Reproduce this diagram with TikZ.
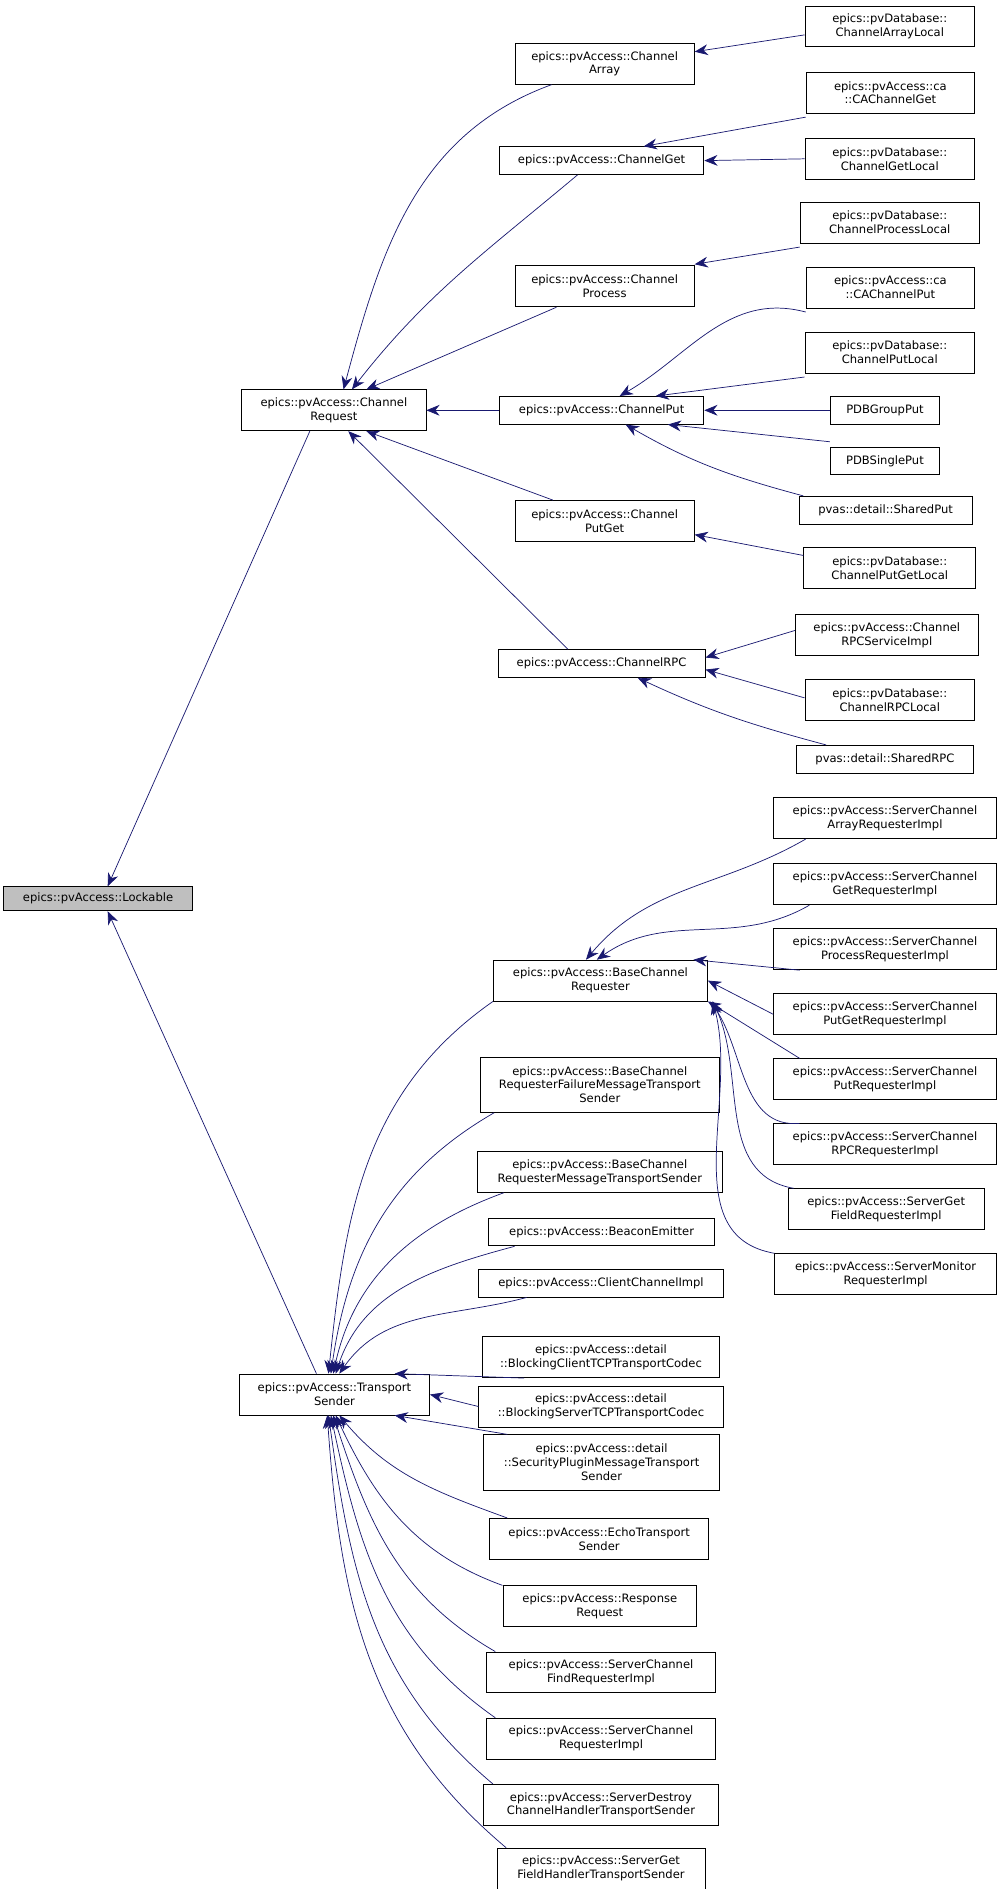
\documentclass[tikz,border=0pt]{standalone}
\usepackage{fontspec}
\setmainfont{DejaVu Sans}
\usetikzlibrary{arrows.meta}
\definecolor{edge}{HTML}{191970}
\begin{document}
\begin{tikzpicture}[x=1pt,y=-1pt,
 b/.style={draw,line width=0.7pt,fill=white,inner sep=1pt,align=center,font=\fontsize{9.6}{11.5}\selectfont,minimum height=#1},
 b/.default=34pt,
 e/.style={edge,line width=0.6pt,-{Stealth[length=11pt,width=9pt]}}]
\path[use as bounding box] (0,0) rectangle (835,1570);
% left
\node[b=20pt,fill=gray!50,minimum width=157pt] (lock) at (81.5,747) {epics::pvAccess::Lockable};
\node[b,minimum width=153pt] (cr) at (277.5,341) {epics::pvAccess::Channel\\Request};
\node[b,minimum width=158pt] (ts) at (278,1159) {epics::pvAccess::Transport\\Sender};
% middle
\node[b,minimum width=149pt] (ca) at (502.5,53) {epics::pvAccess::Channel\\Array};
\node[b=23pt,minimum width=170pt] (cg) at (500,133.5) {epics::pvAccess::ChannelGet};
\node[b,minimum width=149pt] (cpr) at (502.5,238) {epics::pvAccess::Channel\\Process};
\node[b=23pt,minimum width=170pt] (cp) at (500,341) {epics::pvAccess::ChannelPut};
\node[b,minimum width=149pt] (cpg) at (502.5,433) {epics::pvAccess::Channel\\PutGet};
\node[b=23pt,minimum width=172pt] (rpc) at (500,551.5) {epics::pvAccess::ChannelRPC};
\node[b,minimum width=178pt] (bcr) at (499,815) {epics::pvAccess::BaseChannel\\Requester};
\node[b=46pt,minimum width=199pt] (bf) at (498.5,901.5) {epics::pvAccess::BaseChannel\\RequesterFailureMessageTransport\\Sender};
\node[b,minimum width=203pt] (bm) at (498.5,974) {epics::pvAccess::BaseChannel\\RequesterMessageTransportSender};
\node[b=23pt,minimum width=188pt] (be) at (500,1024) {epics::pvAccess::BeaconEmitter};
\node[b=23pt,minimum width=203pt] (cci) at (499.5,1066.5) {epics::pvAccess::ClientChannelImpl};
\node[b,minimum width=197pt] (bc) at (499.5,1128) {epics::pvAccess::detail\\::BlockingClientTCPTransportCodec};
\node[b,minimum width=203pt] (bs) at (499.5,1169) {epics::pvAccess::detail\\::BlockingServerTCPTransportCodec};
\node[b=46pt,minimum width=196pt] (sp) at (500,1215.5) {epics::pvAccess::detail\\::SecurityPluginMessageTransport\\Sender};
\node[b,minimum width=182pt] (et) at (498,1279) {epics::pvAccess::EchoTransport\\Sender};
\node[b,minimum width=161pt] (rr) at (498.5,1335) {epics::pvAccess::Response\\Request};
\node[b,minimum width=191pt] (scf) at (499.5,1390) {epics::pvAccess::ServerChannel\\FindRequesterImpl};
\node[b,minimum width=191pt] (scr) at (499.5,1445) {epics::pvAccess::ServerChannel\\RequesterImpl};
\node[b,minimum width=195pt] (sd) at (499.5,1500) {epics::pvAccess::ServerDestroy\\ChannelHandlerTransportSender};
\node[b,minimum width=173pt] (sgh) at (499.5,1553) {epics::pvAccess::ServerGet\\FieldHandlerTransportSender};
% right
\node[b,minimum width=141pt] (cal) at (739.5,22) {epics::pvDatabase::\\ChannelArrayLocal};
\node[b,minimum width=140pt] (cacg) at (740,77) {epics::pvAccess::ca\\::CAChannelGet};
\node[b,minimum width=141pt] (cgl) at (739.5,132) {epics::pvDatabase::\\ChannelGetLocal};
\node[b,minimum width=149pt] (cprl) at (739.5,185) {epics::pvDatabase::\\ChannelProcessLocal};
\node[b,minimum width=140pt] (cacp) at (740,239) {epics::pvAccess::ca\\::CAChannelPut};
\node[b,minimum width=141pt] (cpl) at (739.5,293) {epics::pvDatabase::\\ChannelPutLocal};
\node[b=23pt,minimum width=91pt] (pgp) at (735.5,341) {PDBGroupPut};
\node[b=23pt,minimum width=91pt] (psp) at (735.5,383) {PDBSinglePut};
\node[b=23pt,minimum width=144pt] (shp) at (736,424) {pvas::detail::SharedPut};
\node[b,minimum width=143pt] (cpgl) at (739.5,472) {epics::pvDatabase::\\ChannelPutGetLocal};
\node[b,minimum width=152pt] (rsi) at (737,528) {epics::pvAccess::Channel\\RPCServiceImpl};
\node[b,minimum width=141pt] (rl) at (739.5,582) {epics::pvDatabase::\\ChannelRPCLocal};
\node[b=23pt,minimum width=147pt] (shr) at (735.5,631) {pvas::detail::SharedRPC};
\node[b,minimum width=185pt] (sa) at (735.5,680) {epics::pvAccess::ServerChannel\\ArrayRequesterImpl};
\node[b,minimum width=185pt] (sg) at (735.5,735) {epics::pvAccess::ServerChannel\\GetRequesterImpl};
\node[b,minimum width=185pt] (spr) at (735.5,789) {epics::pvAccess::ServerChannel\\ProcessRequesterImpl};
\node[b,minimum width=185pt] (spg) at (735.5,843) {epics::pvAccess::ServerChannel\\PutGetRequesterImpl};
\node[b,minimum width=185pt] (sput) at (735.5,897) {epics::pvAccess::ServerChannel\\PutRequesterImpl};
\node[b,minimum width=185pt] (srpc) at (735.5,951) {epics::pvAccess::ServerChannel\\RPCRequesterImpl};
\node[b,minimum width=163pt] (sgf) at (736.5,1005) {epics::pvAccess::ServerGet\\FieldRequesterImpl};
\node[b,minimum width=184pt] (smon) at (736,1059) {epics::pvAccess::ServerMonitor\\RequesterImpl};
% edges to Lockable
\draw[e] ([xshift=-20pt]cr.south) -- ([xshift=8pt]lock.north);
\draw[e] ([xshift=-15pt]ts.north) -- ([xshift=8pt]lock.south);
% to ChannelRequest
\draw[e] ([xshift=-44pt]ca.south) to[out=200,in=75] ([xshift=8pt]cr.north);
\draw[e] ([xshift=-20pt]cg.south) to[out=220,in=52] ([xshift=15pt]cr.north);
\draw[e] ([xshift=-40pt]cpr.south) -- ([xshift=27pt]cr.north);
\draw[e] (cp.west) -- (cr.east);
\draw[e] ([xshift=-43pt]cpg.north) -- ([xshift=27pt]cr.south);
\draw[e] ([xshift=-28pt]rpc.north) -- ([xshift=12pt]cr.south);
% to middle
\draw[e] ([yshift=-7pt]cal.west) -- ([yshift=10pt]ca.east);
\draw[e] ([yshift=-3pt]cacg.south west) -- ([xshift=35pt]cg.north);
\draw[e] (cgl.west) -- (cg.east);
\draw[e] ([yshift=-3pt]cprl.south west) -- ([yshift=1pt]cpr.north east);
\draw[e] ([yshift=-3pt]cacp.south west) to[out=165,in=30] ([xshift=15pt]cp.north);
\draw[e] ([yshift=-3pt]cpl.south west) -- ([xshift=45pt]cp.north);
\draw[e] (pgp.west) -- (cp.east);
\draw[e] ([yshift=4pt]psp.north west) -- ([xshift=55pt]cp.south);
\draw[e] ([xshift=4pt]shp.north west) to[out=165,in=-30] ([xshift=20pt]cp.south);
\draw[e] ([yshift=-7pt]cpgl.north west) -- ([yshift=6pt]cpg.south east);
\draw[e] ([yshift=4pt]rsi.west) -- ([yshift=5pt]rpc.east);
\draw[e] ([yshift=2pt]rl.west) -- ([yshift=-5pt]rpc.east);
\draw[e] ([xshift=25pt]shr.north west) to[out=165,in=-25] ([xshift=30pt]rpc.south);
% to BaseChannelRequester
\draw[e] ([xshift=27pt]sa.south west) to[out=210,in=50] ([xshift=-12pt]bcr.north);
\draw[e] ([xshift=30pt]sg.south west) to[out=210,in=35] ([xshift=-3pt]bcr.north);
\draw[e] ([xshift=22pt]spr.south west) -- ([xshift=-12pt]bcr.north east);
\draw[e] (spg.west) -- (bcr.east);
\draw[e] ([xshift=22pt]sput.north west) -- (bcr.south east);
\draw[e] ([xshift=22pt]srpc.north west) to[out=185,in=-55] ([xshift=2pt]bcr.south east);
\draw[e] ([xshift=5pt]sgf.north west) to[out=170,in=-65] ([xshift=4pt]bcr.south east);
\draw[e] (smon.north west) to[out=170,in=-75] ([xshift=4pt]bcr.south east);
% to TransportSender (above)
\draw[e] (bcr.south west) to[out=215,in=84] ([xshift=-5pt]ts.north);
\draw[e] ([xshift=12pt]bf.south west) to[out=210,in=82] ([xshift=-3pt]ts.north);
\draw[e] ([xshift=22pt]bm.south west) to[out=200,in=78] ([xshift=-1pt]ts.north);
\draw[e] ([xshift=22pt]be.south west) to[out=195,in=72] ([xshift=1pt]ts.north);
\draw[e] ([xshift=40pt]cci.south west) to[out=195,in=55] ([xshift=4pt]ts.north);
\draw[e] ([xshift=35pt]bc.south west) -- ([xshift=50pt]ts.north);
\draw[e] (bs.west) -- (ts.east);
% below
\draw[e] ([xshift=20pt]sp.north west) -- ([xshift=50pt]ts.south);
\draw[e] ([xshift=15pt]et.north west) to[out=160,in=-50] ([xshift=4pt]ts.south);
\draw[e] (rr.north west) to[out=160,in=-65] ([xshift=1pt]ts.south);
\draw[e] ([xshift=8pt]scf.north west) to[out=150,in=-72] ([xshift=-1pt]ts.south);
\draw[e] ([xshift=8pt]scr.north west) to[out=145,in=-78] ([xshift=-3pt]ts.south);
\draw[e] ([xshift=8pt]sd.north west) to[out=140,in=-82] ([xshift=-5pt]ts.south);
\draw[e] ([xshift=8pt]sgh.north west) to[out=140,in=-86] ([xshift=-6pt]ts.south);
\end{tikzpicture}
\end{document}
